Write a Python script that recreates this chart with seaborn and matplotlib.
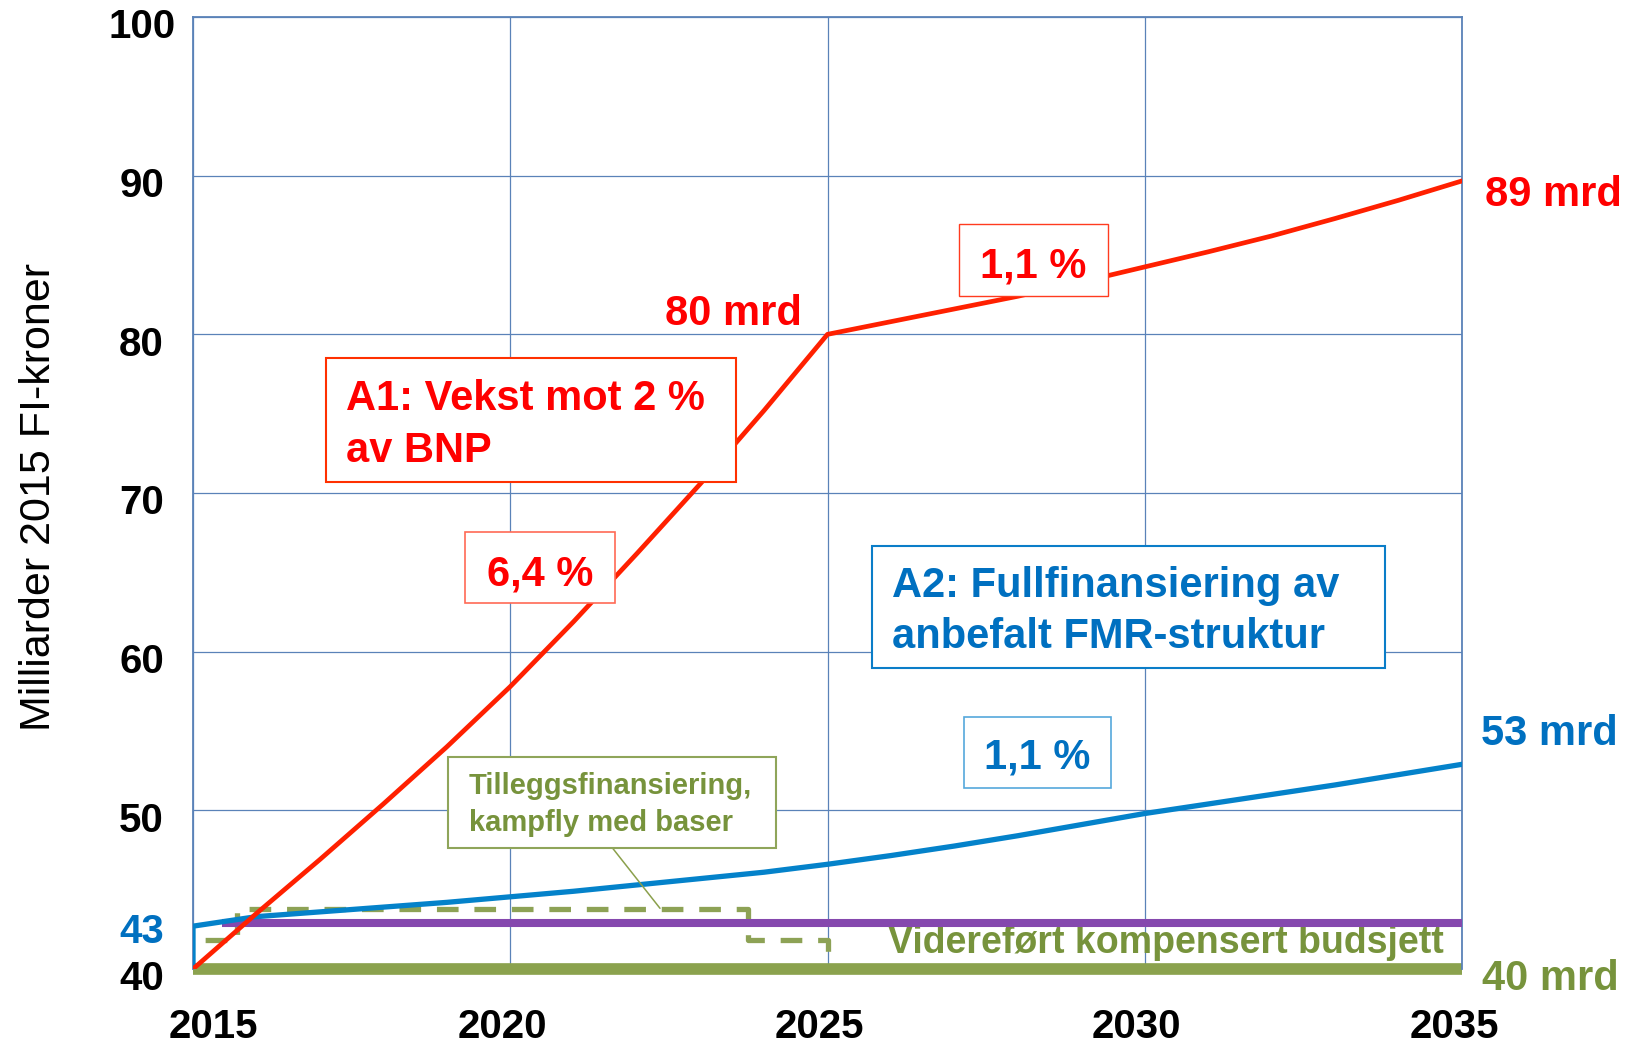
"""Forsvarsbudsjett: A1 / A2 scenarier mot videreført budsjett (2015-2035)."""

import matplotlib

matplotlib.use("Agg")
import matplotlib.pyplot as plt
import matplotlib.transforms as mtransforms
from matplotlib.lines import Line2D
from matplotlib.patches import Rectangle
import seaborn as sns

# --- values (milliarder 2015 FI-kroner) ---
a1_years = [2015, 2016, 2017, 2018, 2019, 2020, 2021, 2022, 2023, 2024, 2025,
            2026, 2027, 2028, 2029, 2030, 2031, 2032, 2033, 2034, 2035]
a1_values = [40.0, 43.5, 46.9, 50.4, 54.0, 57.8, 61.9, 66.2, 70.6, 75.2, 80.0,
             80.8, 81.6, 82.4, 83.3, 84.25, 85.2, 86.2, 87.3, 88.45, 89.67]

a2_years = [2015, 2015, 2016, 2017, 2018, 2019, 2020, 2021, 2022, 2023, 2024, 2025,
            2026, 2027, 2028, 2029, 2030, 2031, 2032, 2033, 2034, 2035]
a2_values = [40.0, 42.7, 43.3, 43.6, 43.9, 44.2, 44.55, 44.9, 45.3, 45.7, 46.1, 46.6,
             47.15, 47.75, 48.4, 49.1, 49.8, 50.4, 51.0, 51.6, 52.25, 52.9]

purple_years = [2015.45, 2035]
purple_values = [42.9, 42.9]

extra_years = [2015, 2015.7, 2015.7, 2023.75, 2023.75, 2025, 2025]
extra_values = [41.8, 41.8, 43.8, 43.8, 41.8, 41.8, 41.0]

base_years = [2015, 2035]
base_values = [40.0, 40.0]

x_ticks = [2015, 2020, 2025, 2030, 2035]
y_ticks = [40, 43, 50, 60, 70, 80, 90, 100]

RED_TXT = "#FF0000"
BLUE_TXT = "#0070C0"
GREEN_TXT = "#77933C"
GRID = "#5A82B8"

W, H = 1635, 1044


def fxy(px, py):
    """pixel position in the 1635x1044 picture -> figure fraction"""
    return px / W, 1 - py / H


def add_box(fig, x0, y0, x1, y1, edge, lw):
    fx0, fy1 = fxy(x0, y0)
    fx1, fy0 = fxy(x1, y1)
    fig.patches.append(Rectangle((fx0, fy0), fx1 - fx0, fy1 - fy0, transform=fig.transFigure,
                                 facecolor="white", edgecolor=edge, linewidth=lw, zorder=5))


sns.set_style("white")
plt.rcParams["font.family"] = ["Liberation Sans", "DejaVu Sans"]

fig = plt.figure(figsize=(W / 100, H / 100), dpi=100)
ax = fig.add_axes([193 / W, 1 - 969 / H, 1269 / W, 952 / H])

# base budget (thick), extra financing (dashed), purple level, A2, A1
sns.lineplot(x=base_years, y=base_values, estimator=None, sort=False, ax=ax, color="#8BA24E",
             linewidth=8.4, solid_capstyle="butt", clip_on=False, zorder=2)
sns.lineplot(x=extra_years, y=extra_values, estimator=None, sort=False, ax=ax, color="#8DA255",
             linewidth=3.8, linestyle=(4.8, (4.1, 3.0)), zorder=3)
sns.lineplot(x=purple_years, y=purple_values, estimator=None, sort=False, ax=ax, color="#8548AE",
             linewidth=5.8, solid_capstyle="butt", zorder=4)
sns.lineplot(x=a2_years, y=a2_values, estimator=None, sort=False, ax=ax, color="#0482CA",
             linewidth=3.8, zorder=5)
sns.lineplot(x=a1_years, y=a1_values, estimator=None, sort=False, ax=ax, color="#FF2000",
             linewidth=3.4, zorder=6)

ax.set_xlim(2015, 2035)
ax.set_ylim(40, 100)
ax.set_xticks(x_ticks)
ax.set_xticklabels([str(t) for t in x_ticks])
ax.set_yticks(y_ticks)
ax.set_yticklabels([str(t) for t in y_ticks])
ax.set_xlabel("")
ax.set_ylabel("Milliarder 2015 FI-kroner", fontsize=31, color="black")
ax.yaxis.set_label_coords(-0.1056, 0.496)

ax.set_axisbelow(True)
ax.grid(True, color=GRID, linewidth=0.9)
for t in ax.yaxis.get_major_ticks():
    if t.get_loc() in (40, 43):
        t.gridline.set_visible(False)
for s in ax.spines.values():
    s.set_color(GRID)
    s.set_linewidth(1.3)
ax.spines["bottom"].set_visible(False)

ax.tick_params(axis="both", length=0, labelsize=29, labelcolor="black")
ax.tick_params(axis="x", pad=28)
ax.tick_params(axis="y", pad=37)
for lbl in ax.get_xticklabels() + ax.get_yticklabels():
    lbl.set_fontweight("bold")

down = mtransforms.ScaledTranslation(0, -0.065, fig.dpi_scale_trans)
for lbl in ax.get_yticklabels():
    lbl.set_horizontalalignment("center")
    lbl.set_transform(lbl.get_transform() + down)
    if lbl.get_text() == "43":
        lbl.set_color(BLUE_TXT)
for lbl in ax.get_xticklabels():
    dx = 0.20 if lbl.get_text() == "2015" else -0.08
    lbl.set_transform(lbl.get_transform() + mtransforms.ScaledTranslation(dx, 0, fig.dpi_scale_trans))

# end labels
lab = dict(textcoords="offset pixels", fontsize=30, fontweight="bold", va="baseline")
ax.annotate("89 mrd", (a1_years[-1], a1_values[-1]), xytext=(23, -25), ha="left",
            color=RED_TXT, annotation_clip=False, **lab)
ax.annotate("80 mrd", (a1_years[10], a1_values[10]), xytext=(-26, 9), ha="right",
            color=RED_TXT, **lab)
ax.annotate("53 mrd", (a2_years[-1], a2_values[-1]), xytext=(19, 19), ha="left",
            color=BLUE_TXT, annotation_clip=False, **lab)
ax.annotate("40 mrd", (base_years[-1], base_values[-1]), xytext=(20, -21), ha="left",
            color=GREEN_TXT, annotation_clip=False, **lab)
ax.annotate("Videreført kompensert budsjett", (base_years[-1], base_values[-1]),
            xytext=(-18, 16), textcoords="offset pixels", ha="right", va="baseline",
            fontsize=27, fontweight="bold", color=GREEN_TXT)

# boxes with text (multi-line text: baseline = last line)
add_box(fig, 325.5, 358, 736, 482, "#FF3000", 1.5)
fig.text(*fxy(346, 461.7), "A1: Vekst mot 2 %\nav BNP", fontsize=30, fontweight="bold",
         color=RED_TXT, va="baseline", ha="left", linespacing=1.38, zorder=6)

add_box(fig, 959, 224, 1108, 296, "#FF3B1F", 1.0)
fig.text(*fxy(1033.5, 277.3), "1,1 %", fontsize=30, fontweight="bold", color=RED_TXT,
         va="baseline", ha="center", zorder=6)

add_box(fig, 465, 532, 615, 603, "#FF6A55", 1.2)
fig.text(*fxy(540.5, 585), "6,4 %", fontsize=30, fontweight="bold", color=RED_TXT,
         va="baseline", ha="center", zorder=6)

add_box(fig, 871.5, 545.7, 1385, 668, "#0A7DC8", 1.5)
fig.text(*fxy(892.5, 648.3), "A2: Fullfinansiering av\nanbefalt FMR-struktur", fontsize=30,
         fontweight="bold", color=BLUE_TXT, va="baseline", ha="left", linespacing=1.36, zorder=6)

add_box(fig, 963.5, 716.7, 1111, 787.7, "#55A8DC", 1.2)
fig.text(*fxy(1037, 768.3), "1,1 %", fontsize=30, fontweight="bold", color=BLUE_TXT,
         va="baseline", ha="center", zorder=6)

add_box(fig, 448, 757, 776, 848, "#8FA55A", 1.5)
fig.text(*fxy(469, 830.7), "Tilleggsfinansiering,\nkampfly med baser", fontsize=21,
         fontweight="bold", color=GREEN_TXT, va="baseline", ha="left", linespacing=1.38, zorder=6)
(lx0, ly0), (lx1, ly1) = fxy(612.7, 848.3), fxy(660, 908.3)
fig.lines.append(Line2D([lx0, lx1], [ly0, ly1], transform=fig.transFigure, color="#8BA04C",
                        linewidth=1.1, zorder=4))

fig.savefig("out.png", dpi=100, facecolor="white")
